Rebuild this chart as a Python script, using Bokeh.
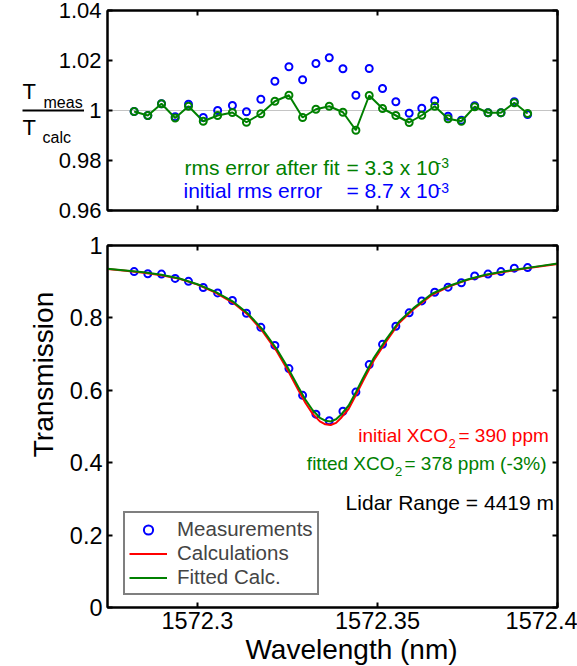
import math
from bokeh.plotting import figure
from bokeh.models import (Range1d, LinearAxis, FixedTicker, Label, Span, Legend,
                          LegendItem, Arrow, GridBox, Column)
from bokeh.embed import file_html
from bokeh.resources import INLINE

FONT = "Liberation Sans"
BLUE = "#0000ff"
GREEN = "#008000"
RED = "#ff0000"

# ---------------- data ----------------
wavelength_meas = [1572.2824, 1572.2862, 1572.2900, 1572.2938, 1572.2975, 1572.3016,
                   1572.3056, 1572.3097, 1572.3136, 1572.3176, 1572.3215, 1572.3254,
                   1572.3292, 1572.3329, 1572.3366, 1572.3404, 1572.3440, 1572.3477,
                   1572.3514, 1572.3551, 1572.3588, 1572.3623, 1572.3659, 1572.3696,
                   1572.3733, 1572.3770, 1572.3807, 1572.3843, 1572.3880, 1572.3917]
transmission_meas = [0.928, 0.922, 0.921, 0.909, 0.901, 0.884, 0.869, 0.848, 0.813, 0.774,
                     0.724, 0.660, 0.586, 0.534, 0.516, 0.542, 0.595, 0.671, 0.727, 0.777,
                     0.814, 0.847, 0.871, 0.885, 0.897, 0.916, 0.921, 0.928, 0.9375, 0.939]
ratio_initial = [0.9996, 0.9980, 1.0027, 0.9975, 1.0025, 0.9972, 1.0000, 1.0020, 0.9995, 1.0045,
                 1.0117, 1.0175, 1.0123, 1.0188, 1.0211, 1.0167, 1.0061, 1.0168, 1.0088, 1.0035,
                 0.9989, 1.0009, 1.0039, 0.9977, 0.9961, 1.0019, 0.9991, 0.9991, 1.0035, 0.9984]
ratio_fitted = [0.9996, 0.9980, 1.0027, 0.9970, 1.0017, 0.9957, 0.9980, 0.9992, 0.9953, 0.9987,
                1.0037, 1.0061, 0.9972, 1.0005, 1.0017, 0.9993, 0.9921, 1.0060, 1.0008, 0.9980,
                0.9952, 0.9981, 1.0017, 0.9967, 0.9957, 1.0015, 0.9991, 0.9991, 1.0031, 0.9988]

wavelength_model = [1572.275, 1572.280, 1572.285, 1572.290, 1572.295, 1572.300, 1572.305,
                    1572.310, 1572.314, 1572.318, 1572.322, 1572.325, 1572.328, 1572.330,
                    1572.332, 1572.334, 1572.3355, 1572.337, 1572.3385, 1572.340, 1572.342,
                    1572.344, 1572.346, 1572.349, 1572.352, 1572.356, 1572.360, 1572.365,
                    1572.370, 1572.375, 1572.380, 1572.385, 1572.390, 1572.395, 1572.400]
transmission_fit = [0.936, 0.931, 0.926, 0.919, 0.909, 0.893, 0.872, 0.844, 0.812, 0.769,
                    0.714, 0.664, 0.609, 0.574, 0.545, 0.524, 0.516, 0.514, 0.520, 0.534,
                    0.558, 0.595, 0.634, 0.690, 0.735, 0.790, 0.827, 0.866, 0.889, 0.906,
                    0.919, 0.928, 0.936, 0.943, 0.950]
transmission_calc = [0.935, 0.930, 0.925, 0.918, 0.908, 0.892, 0.870, 0.841, 0.809, 0.764,
                     0.708, 0.657, 0.601, 0.565, 0.535, 0.514, 0.506, 0.504, 0.510, 0.525,
                     0.549, 0.587, 0.626, 0.683, 0.729, 0.786, 0.824, 0.863, 0.887, 0.905,
                     0.918, 0.927, 0.935, 0.942, 0.949]

x_ticks = [1572.3, 1572.35, 1572.4]
x_tick_labels = ["1572.3", "1572.35", "1572.4"]
top_y_ticks = [0.96, 0.98, 1.0, 1.02, 1.04]
top_y_tick_labels = ["0.96", "0.98", "1", "1.02", "1.04"]
bot_y_ticks = [0.0, 0.2, 0.4, 0.6, 0.8, 1.0]
bot_y_tick_labels = ["0", "0.2", "0.4", "0.6", "0.8", "1"]

X_MIN, X_MAX = 1572.275, 1572.4
TOP_Y = (0.96, 1.04)
BOT_Y = (0.0, 1.0)

# ---------------- layout geometry (pixels) ----------------
W, H = 577, 666
FRAME_L, FRAME_R = 107, 557
TOP_FT, TOP_FH = 10, 200
TOP_H = 228
BOT_FT, BOT_FH = 245, 362
BOT_H = H - TOP_H
TOP_FB = TOP_FT + TOP_FH
BOT_FB = BOT_FT + BOT_FH
BASE_SHIFT = 0.34   # Label anchor sits this many em above the glyph baseline


def style_axis(ax, ticks, labels, show_labels, size=22, standoff=6):
    ax.ticker = FixedTicker(ticks=ticks)
    ax.major_label_overrides = {t: l for t, l in zip(ticks, labels)}
    ax.major_tick_in = 5
    ax.major_tick_out = 0
    ax.minor_tick_in = 0
    ax.minor_tick_out = 0
    ax.axis_line_width = 2
    ax.axis_line_color = "black"
    ax.major_tick_line_width = 2
    ax.major_tick_line_color = "black"
    ax.major_label_text_font = FONT
    ax.major_label_text_color = "black"
    if show_labels:
        ax.major_label_text_font_size = f"{size}px"
        ax.major_label_standoff = standoff
    else:
        ax.major_label_text_font_size = "0px"
        ax.major_label_standoff = 0


def make_fig(height, y_range, border_top, border_bottom):
    p = figure(width=W, height=height, x_range=Range1d(X_MIN, X_MAX),
               y_range=Range1d(*y_range), output_backend="svg", toolbar_location=None,
               min_border_left=FRAME_L, min_border_right=W - FRAME_R,
               min_border_top=border_top, min_border_bottom=border_bottom)
    p.grid.visible = False
    p.outline_line_color = "black"
    p.outline_line_width = 2
    p.background_fill_color = "white"
    p.border_fill_color = "white"
    p.add_layout(LinearAxis(), "above")
    p.add_layout(LinearAxis(), "right")
    return p


def add_label(p, frame_bottom, text, px, py, size, color="black", align="left"):
    """Text inside a frame, glyph baseline at canvas pixel (px, py)."""
    p.add_layout(Label(x=px - FRAME_L, y=frame_bottom - (py - BASE_SHIFT * size),
                       x_units="screen", y_units="screen", text=text, text_font=FONT,
                       text_font_size=f"{size}px", text_color=color, text_align=align,
                       text_baseline="alphabetic"))


# ---------------- top panel: ratio ----------------
top = make_fig(TOP_H, TOP_Y, TOP_FT, TOP_H - TOP_FB)
style_axis(top.below[0], x_ticks, x_tick_labels, False)
style_axis(top.above[0], x_ticks, x_tick_labels, False)
style_axis(top.left[0], top_y_ticks, top_y_tick_labels, True, size=22, standoff=6)
style_axis(top.right[0], top_y_ticks, top_y_tick_labels, False)

top.add_layout(Span(location=1.0, dimension="width", line_color="#c4c4c4",
                    line_width=1, level="underlay"))
top.scatter(wavelength_meas, ratio_initial, marker="circle", size=7, fill_color=None,
            line_color=BLUE, line_width=2)
top.line(wavelength_meas, ratio_fitted, line_color=GREEN, line_width=2)
top.scatter(wavelength_meas, ratio_fitted, marker="circle", size=7, fill_color=None,
            line_color=GREEN, line_width=2)

add_label(top, TOP_FB, "rms error after fit", 184, 174, 21, GREEN)
add_label(top, TOP_FB, "= 3.3 x 10", 346, 174, 21, GREEN)
add_label(top, TOP_FB, "-3", 436, 167, 14, GREEN)
add_label(top, TOP_FB, "initial rms error", 183, 197, 21, BLUE)
add_label(top, TOP_FB, "= 8.7 x 10", 346, 197, 21, BLUE)
add_label(top, TOP_FB, "-3", 436, 192, 14, BLUE)

# ---------------- bottom panel: transmission ----------------
bot_border_top = BOT_FT - TOP_H
bot = make_fig(BOT_H, BOT_Y, bot_border_top, BOT_H - bot_border_top - BOT_FH)
style_axis(bot.below[0], x_ticks, x_tick_labels, True, size=23.5, standoff=4)
style_axis(bot.above[0], x_ticks, x_tick_labels, False)
style_axis(bot.left[0], bot_y_ticks, bot_y_tick_labels, True, size=23.5, standoff=5)
style_axis(bot.right[0], bot_y_ticks, bot_y_tick_labels, False)

r_meas = bot.scatter(wavelength_meas, transmission_meas, marker="circle", size=7,
                     fill_color=None, line_color=BLUE, line_width=2)
r_calc = bot.line(wavelength_model, transmission_calc, line_color=RED, line_width=2)
r_fit = bot.line(wavelength_model, transmission_fit, line_color=GREEN, line_width=2)

legend = Legend(items=[LegendItem(label="Measurements", renderers=[r_meas]),
                       LegendItem(label="Calculations", renderers=[r_calc]),
                       LegendItem(label="Fitted Calc.", renderers=[r_fit])],
                location=(16, 12), border_line_color="black", border_line_width=2,
                background_fill_color="white", background_fill_alpha=1.0,
                label_text_font=FONT, label_text_font_size="20.5px",
                glyph_width=38, glyph_height=23, label_height=23, label_standoff=10,
                padding=4, spacing=0, margin=0)
bot.add_layout(legend)

add_label(bot, BOT_FB, "initial XCO", 447.5, 441, 19, RED, align="right")
add_label(bot, BOT_FB, "2", 448, 447, 13, RED)
add_label(bot, BOT_FB, "= 390 ppm", 458, 441, 19, RED)
add_label(bot, BOT_FB, "fitted XCO", 394, 469, 19, GREEN, align="right")
add_label(bot, BOT_FB, "2", 394.5, 475, 13, GREEN)
add_label(bot, BOT_FB, "= 378 ppm (-3%)", 404, 469, 19, GREEN)
add_label(bot, BOT_FB, "Lidar Range = 4419 m", 553.5, 509, 21, "black", align="right")

# ---------------- transparent overlay for the axis titles ----------------
# Annotations are clipped to their plot frame, so the texts that sit outside the
# two panels live in a full-window, see-through figure laid over them.  It is
# wrapped in a Column so the grid does not align its borders with the panels.
over = figure(width=W, height=H, x_range=Range1d(0, W), y_range=Range1d(H, 0),
              output_backend="svg", toolbar_location=None,
              x_axis_location=None, y_axis_location=None, min_border=0)
over.grid.visible = False
over.outline_line_color = None
over.background_fill_color = None
over.border_fill_color = None


def over_label(text, px, py, size, align="left", angle=0.0):
    """Glyph baseline at canvas pixel (px, py); rotated texts shift along x."""
    if angle:
        px, py = px - BASE_SHIFT * size, py
    else:
        py = py - BASE_SHIFT * size
    over.add_layout(Label(x=px, y=py, text=text, text_font=FONT,
                          text_font_size=f"{size}px", text_color="black",
                          text_align=align, text_baseline="alphabetic", angle=angle))


over_label("T", 22, 98.5, 22)
over_label("meas", 43, 107.5, 16)
over.add_layout(Arrow(start=None, end=None, x_start=22, y_start=110, x_end=83.5,
                      y_end=110, line_color="black", line_width=2))
over_label("T", 22, 134, 22)
over_label("calc", 42, 142, 16)
over_label("Wavelength (nm)", 351, 659, 28, align="center")
over_label("Transmission", 53, 374, 28, align="center", angle=math.pi / 2)

layout = GridBox(children=[(top, 0, 0), (bot, 1, 0), (Column(children=[over]), 0, 0, 2, 1)],
                 spacing=0)
open("out.html", "w").write(file_html(layout, INLINE))
